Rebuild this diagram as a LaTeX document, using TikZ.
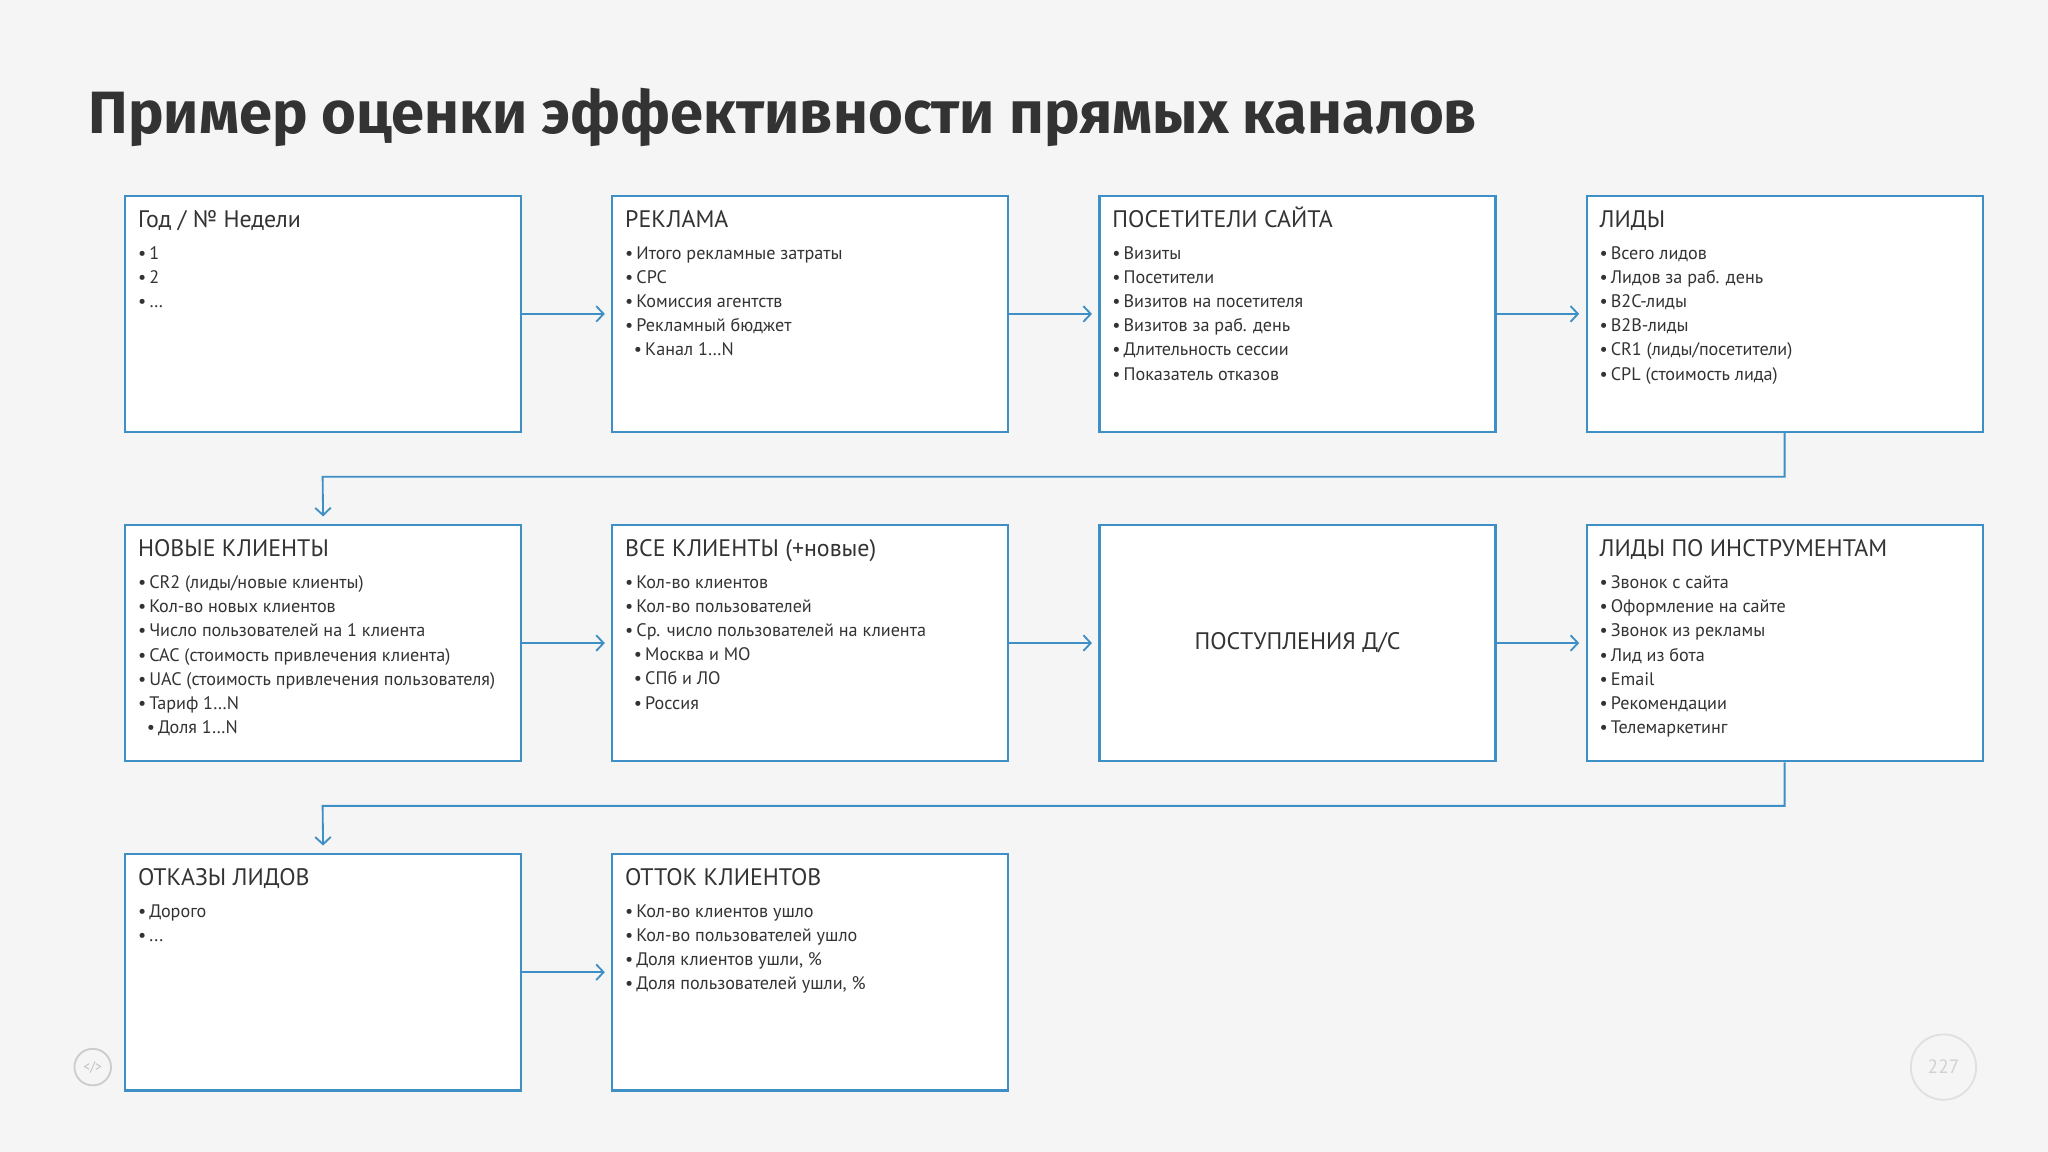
\documentclass[tikz,border=0pt]{standalone}
\usepackage{fontspec}
\setmainfont{PT Sans}
\newfontfamily\titlefont{Fira Sans}
\usetikzlibrary{arrows.meta}
\definecolor{bx}{HTML}{3D8FC6}
\definecolor{tx}{HTML}{333333}
\tikzset{
 x=0.01cm,y=-0.01cm,
 box/.style={draw=bx,line width=0.45pt,fill=white,minimum width=3.03cm,minimum height=1.81cm,anchor=north west,inner sep=0pt},
 head/.style={anchor=base west,inner sep=0pt,text=tx,font=\fontsize{5.2}{6}\selectfont},
 items/.style={anchor=north west,inner sep=0pt,text=tx,align=left,font=\fontsize{3.95}{5.26}\selectfont},
 arr/.style={draw=bx,line width=0.4pt,-{Straight Barb[length=1.6pt,width=3.4pt]}},
}
\newcommand{\bl}{\textbullet\,}
\newcommand{\sbl}{\hspace{1.9pt}\textbullet\,}
\begin{document}
\begin{tikzpicture}
\useasboundingbox[fill=black!4] (0,0) rectangle (1568,882);
\node[anchor=base west,inner sep=0pt,text=tx,font=\titlefont\bfseries\fontsize{13}{14}\selectfont] (title) at (67,102) {Пример оценки эффективности прямых каналов};
\node[box] (b1) at (95,149) {};
\node[box] (b2) at (468,149) {};
\node[box] (b3) at (841,149) {};
\node[box] (b4) at (1214,149) {};
\node[box] (b5) at (95,401) {};
\node[box] (b6) at (468,401) {};
\node[box] (b7) at (841,401) {};
\node[box] (b8) at (1214,401) {};
\node[box] (b9) at (95,653) {};
\node[box] (b10) at (468,653) {};
\node[head] (h1) at (105,174) {Год / № Недели};
\node[items] (i1) at (105,188) {\bl 1\\\bl 2\\\bl …};
\node[head] (h2) at (478,174) {РЕКЛАМА};
\node[items] (i2) at (478,188) {\bl Итого рекламные затраты\\\bl CPC\\\bl Комиссия агентств\\\bl Рекламный бюджет\\\sbl Канал 1…N};
\node[head] (h3) at (851,174) {ПОСЕТИТЕЛИ САЙТА};
\node[items] (i3) at (851,188) {\bl Визиты\\\bl Посетители\\\bl Визитов на посетителя\\\bl Визитов за раб. день\\\bl Длительность сессии\\\bl Показатель отказов};
\node[head] (h4) at (1224,174) {ЛИДЫ};
\node[items] (i4) at (1224,188) {\bl Всего лидов\\\bl Лидов за раб. день\\\bl B2C-лиды\\\bl B2B-лиды\\\bl CR1 (лиды/посетители)\\\bl CPL (стоимость лида)};
\node[head] (h5) at (105,426) {НОВЫЕ КЛИЕНТЫ};
\node[items] (i5) at (105,440) {\bl CR2 (лиды/новые клиенты)\\\bl Кол-во новых клиентов\\\bl Число пользователей на 1 клиента\\\bl CAC (стоимость привлечения клиента)\\\bl UAC (стоимость привлечения пользователя)\\\bl Тариф 1…N\\\sbl Доля 1…N};
\node[head] (h6) at (478,426) {ВСЕ КЛИЕНТЫ (+новые)};
\node[items] (i6) at (478,440) {\bl Кол-во клиентов\\\bl Кол-во пользователей\\\bl Ср. число пользователей на клиента\\\sbl Москва и МО\\\sbl СПб и ЛО\\\sbl Россия};
\node[text=tx,font=\fontsize{5.2}{6}\selectfont,inner sep=0pt] (h7) at (b7.center) {ПОСТУПЛЕНИЯ Д/С};
\node[head] (h8) at (1224,426) {ЛИДЫ ПО ИНСТРУМЕНТАМ};
\node[items] (i8) at (1224,440) {\bl Звонок с сайта\\\bl Оформление на сайте\\\bl Звонок из рекламы\\\bl Лид из бота\\\bl Email\\\bl Рекомендации\\\bl Телемаркетинг};
\node[head] (h9) at (105,678) {ОТКАЗЫ ЛИДОВ};
\node[items] (i9) at (105,692) {\bl Дорого\\\bl ...};
\node[head] (h10) at (478,678) {ОТТОК КЛИЕНТОВ};
\node[items] (i10) at (478,692) {\bl Кол-во клиентов ушло\\\bl Кол-во пользователей ушло\\\bl Доля клиентов ушли, \%\\\bl Доля пользователей ушли, \%};
\foreach \a/\b in {b1/b2,b2/b3,b3/b4,b5/b6,b6/b7,b7/b8,b9/b10}
  \draw[arr] (\a.east) -- ([xshift=-1.4pt]\b.west);
\coordinate (c1) at (247,365);
\coordinate (c2) at (247,617);
\draw[arr] (b4.south) |- (c1) -- ([yshift=1.6pt]b5.north);
\draw[arr] (b8.south) |- (c2) -- ([yshift=1.6pt]b9.north);
\node[draw=black!20,circle,minimum size=0.28cm,inner sep=0pt,text=black!25,font=\fontsize{3}{3}\selectfont] (logo) at (71,817) {</>};
\node[draw=black!12,circle,minimum size=0.5cm,inner sep=0pt,text=black!18,font=\fontsize{4.2}{5}\selectfont] (pg) at (1488,817) {227};
\end{tikzpicture}
\end{document}
